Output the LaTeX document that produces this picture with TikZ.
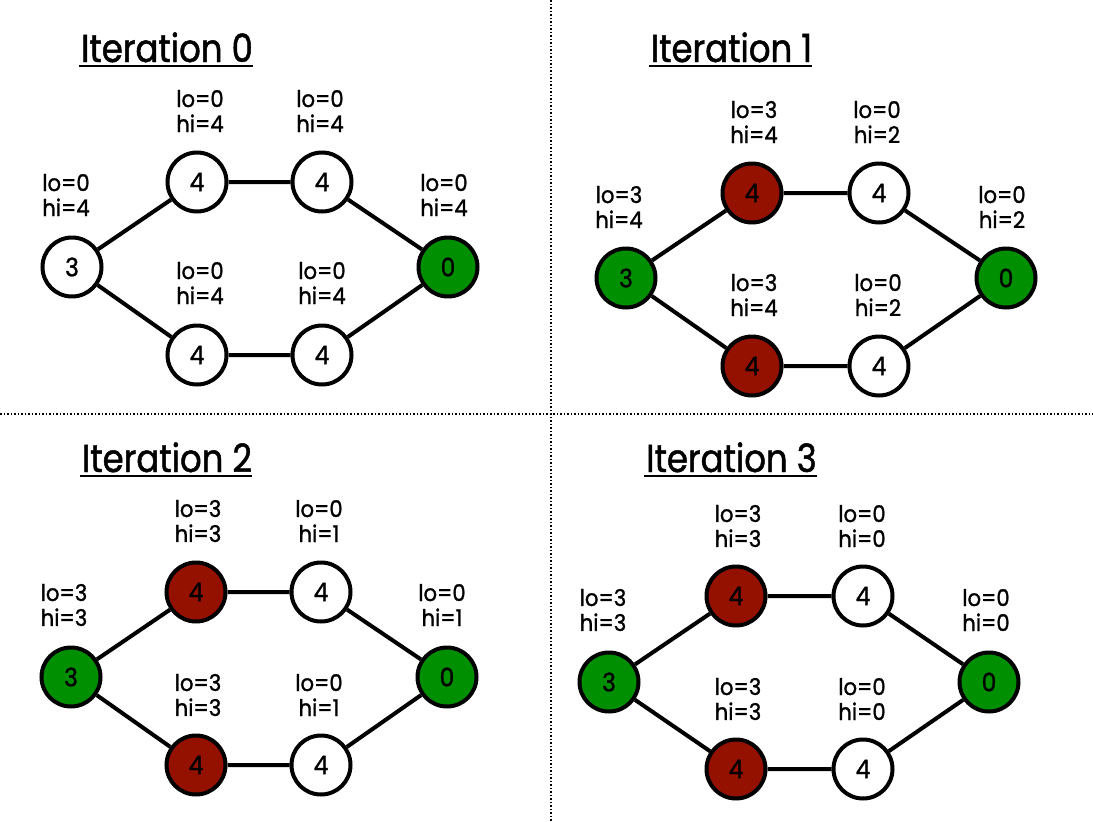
\documentclass[tikz,border=0pt]{standalone}
\usepackage{fontspec}
\setmainfont{Poppins}[FakeStretch=0.92,FakeBold=1.2]
\newfontfamily\ttlfont{Poppins}[FakeStretch=0.87,FakeBold=1.2]
\definecolor{clover}{RGB}{0,143,0}
\definecolor{cayenne}{RGB}{148,17,0}
\begin{document}
\begin{tikzpicture}[x=1pt,y=-1pt,
 vert/.style={circle,draw=black,line width=4pt,minimum size=59pt,inner sep=0pt,font=\fontsize{25.5}{25.5}\selectfont,fill=white},
 srcv/.style={vert,fill=clover},
 visv/.style={vert,fill=cayenne},
 lab/.style={align=center,inner sep=0pt,font=\fontsize{23}{25}\selectfont},
 edge/.style={line width=4pt},
 ttl/.style={anchor=base,inner sep=0pt,font=\ttlfont\fontsize{39}{40}\selectfont},
 uline/.style={line width=2.5pt},
 sepline/.style={line width=1.5pt,dotted}]
\useasboundingbox (0,0) rectangle (1093,822);
\fill[white] (0,0) rectangle (1093,822);
% separators
\draw[sepline] (0,414) -- (1093,414);
\draw[sepline] (551,0) -- (551,822);

% ---------- Iteration 0 ----------
\node[ttl] (t0) at (167,62) {Iteration 0};
\draw[uline] ([xshift=-2pt,yshift=-4pt]t0.base west) -- ([yshift=-4pt]t0.base east);
\node[vert] (a0l) at (72,267) {3};
\node[vert] (a0tl) at (197,182) {4};
\node[vert] (a0tr) at (322,182) {4};
\node[srcv] (a0r) at (448,267) {0};
\node[vert] (a0bl) at (197,355) {4};
\node[vert] (a0br) at (322,355) {4};
\node[lab] (l0l) at (66,195) {lo=0\\hi=4};
\node[lab] (l0tl) at (200,111) {lo=0\\hi=4};
\node[lab] (l0tr) at (320,111) {lo=0\\hi=4};
\node[lab] (l0r) at (444,195) {lo=0\\hi=4};
\node[lab] (l0bl) at (200,283) {lo=0\\hi=4};
\node[lab] (l0br) at (322,283) {lo=0\\hi=4};
\draw[edge] (a0l) -- (a0tl) (a0l) -- (a0bl) (a0tl) -- (a0tr) (a0bl) -- (a0br) (a0tr) -- (a0r) (a0br) -- (a0r);

% ---------- Iteration 1 ----------
\node[ttl] (t1) at (731.5,62) {Iteration 1};
\draw[uline] ([xshift=-2pt,yshift=-4pt]t1.base west) -- ([yshift=-4pt]t1.base east);
\node[srcv] (a1l) at (626,278) {3};
\node[visv] (a1tl) at (752,193) {4};
\node[vert] (a1tr) at (879,193) {4};
\node[srcv] (a1r) at (1006,278) {0};
\node[visv] (a1bl) at (752,366) {4};
\node[vert] (a1br) at (879,366) {4};
\node[lab] (l1l) at (619,207) {lo=3\\hi=4};
\node[lab] (l1tl) at (754,122) {lo=3\\hi=4};
\node[lab] (l1tr) at (877,122) {lo=0\\hi=2};
\node[lab] (l1r) at (1002,207) {lo=0\\hi=2};
\node[lab] (l1bl) at (754,295) {lo=3\\hi=4};
\node[lab] (l1br) at (878,295) {lo=0\\hi=2};
\draw[edge] (a1l) -- (a1tl) (a1l) -- (a1bl) (a1tl) -- (a1tr) (a1bl) -- (a1br) (a1tr) -- (a1r) (a1br) -- (a1r);

% ---------- Iteration 2 ----------
\node[ttl] (t2) at (167,472) {Iteration 2};
\draw[uline] ([xshift=-2pt,yshift=-4pt]t2.base west) -- ([yshift=-4pt]t2.base east);
\node[srcv] (a2l) at (71,677) {3};
\node[visv] (a2tl) at (196,592) {4};
\node[vert] (a2tr) at (321,592) {4};
\node[srcv] (a2r) at (447,677) {0};
\node[visv] (a2bl) at (196,765) {4};
\node[vert] (a2br) at (321,765) {4};
\node[lab] (l2l) at (64,605) {lo=3\\hi=3};
\node[lab] (l2tl) at (198,521) {lo=3\\hi=3};
\node[lab] (l2tr) at (319,521) {lo=0\\hi=1};
\node[lab] (l2r) at (442,605) {lo=0\\hi=1};
\node[lab] (l2bl) at (198,695) {lo=3\\hi=3};
\node[lab] (l2br) at (319,695) {lo=0\\hi=1};
\draw[edge] (a2l) -- (a2tl) (a2l) -- (a2bl) (a2tl) -- (a2tr) (a2bl) -- (a2br) (a2tr) -- (a2r) (a2br) -- (a2r);

% ---------- Iteration 3 ----------
\node[ttl] (t3) at (731.5,472) {Iteration 3};
\draw[uline] ([xshift=-2pt,yshift=-4pt]t3.base west) -- ([yshift=-4pt]t3.base east);
\node[srcv] (a3l) at (609,682) {3};
\node[visv] (a3tl) at (736,596) {4};
\node[vert] (a3tr) at (863,596) {4};
\node[srcv] (a3r) at (989,682) {0};
\node[visv] (a3bl) at (736,769) {4};
\node[vert] (a3br) at (863,769) {4};
\node[lab] (l3l) at (603,610) {lo=3\\hi=3};
\node[lab] (l3tl) at (738,526) {lo=3\\hi=3};
\node[lab] (l3tr) at (862,526) {lo=0\\hi=0};
\node[lab] (l3r) at (986,610) {lo=0\\hi=0};
\node[lab] (l3bl) at (738,699) {lo=3\\hi=3};
\node[lab] (l3br) at (862,699) {lo=0\\hi=0};
\draw[edge] (a3l) -- (a3tl) (a3l) -- (a3bl) (a3tl) -- (a3tr) (a3bl) -- (a3br) (a3tr) -- (a3r) (a3br) -- (a3r);
\end{tikzpicture}
\end{document}
